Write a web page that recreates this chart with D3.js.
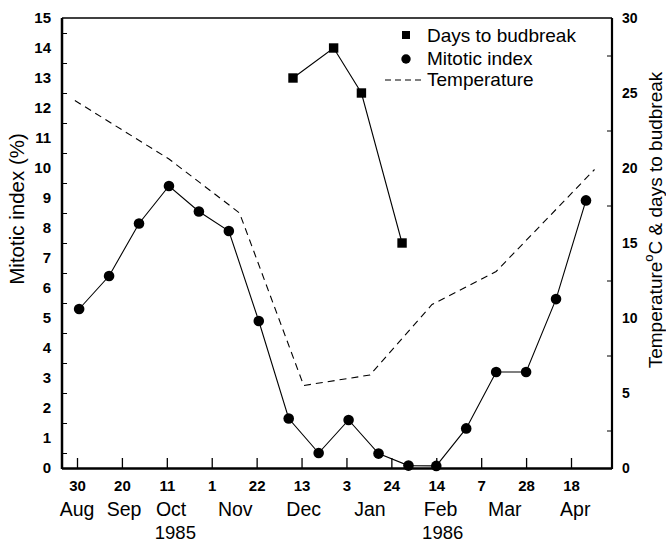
<!DOCTYPE html>
<html><head><meta charset="utf-8">
<script src="https://cdn.jsdelivr.net/npm/d3@7"></script>
<style>body{margin:0;background:#fff}svg{display:block}</style>
</head><body><svg id="c" width="666" height="544"></svg>
<script>
// ---- data ----
const tickDates = ["1985-08-30","1985-09-20","1985-10-11","1985-11-01","1985-11-22","1985-12-13","1986-01-03","1986-01-24","1986-02-14","1986-03-07","1986-03-28","1986-04-18"];
const tickLabels = ["30","20","11","1","22","13","3","24","14","7","28","18"];
const monthLabels = ["Aug","Sep","Oct","Nov","Dec","Jan","Feb","Mar","Apr"];
const monthDates = ["1985-08-30","1985-09-21","1985-10-13","1985-11-12","1985-12-14","1986-01-14","1986-02-16","1986-03-18","1986-04-20"];
const yearLabels = ["1985","1986"];
const yearDates = ["1985-10-15","1986-02-17"];

const mitoticDates = ["1985-08-31","1985-09-14","1985-09-28","1985-10-12","1985-10-26","1985-11-09","1985-11-23","1985-12-07","1985-12-21","1986-01-04","1986-01-18","1986-02-01","1986-02-14","1986-02-28","1986-03-14","1986-03-28","1986-04-11","1986-04-25"];
const mitoticIndex = [5.3, 6.4, 8.15, 9.4, 8.55, 7.9, 4.9, 1.65, 0.5, 1.6, 0.48, 0.08, 0.07, 1.32, 3.2, 3.2, 5.63, 8.92];

const budbreakDates = ["1985-12-09","1985-12-28","1986-01-10","1986-01-29"];
const budbreakDays = [26, 28, 25, 15];

const tempDates = ["1985-08-29","1985-10-12","1985-11-14","1985-12-14","1986-01-14","1986-02-12","1986-03-14","1986-04-29"];
const temperature = [24.5, 20.6, 17.0, 5.5, 6.2, 10.9, 13.1, 19.9];

const leftTicks = d3.range(0, 16, 1);
const rightTicks = d3.range(0, 31, 5);

const legendLabels = ["Days to budbreak", "Mitotic index", "Temperature"];

// ---- layout ----
const FONT = "'Liberation Sans', Arial, Helvetica, sans-serif";
const L = 62, R = 612, T = 18, B = 468;
const parse = d3.utcParse("%Y-%m-%d");
const svg = d3.select("#c").style("font-family", FONT);

const x = d3.scaleUtc().domain([parse("1985-08-30"), parse("1986-04-18")]).range([77, 571]);
const yL = d3.scaleLinear().domain([0, 15]).range([B, T]);
const yR = d3.scaleLinear().domain([0, 30]).range([B, T]);

// bottom axis
const gx = svg.append("g").attr("transform", `translate(0,${B})`)
  .call(d3.axisBottom(x).tickValues(tickDates.map(parse))
    .tickFormat((d, i) => tickLabels[i]).tickSizeInner(-10).tickSizeOuter(0));
gx.select(".domain").remove();
gx.selectAll(".tick line").attr("stroke", "#000").attr("stroke-width", 1.3);
gx.selectAll(".tick text").attr("y", 12).attr("dy", "0.71em")
  .style("font-family", FONT).style("font-size", "15px").style("font-weight", "bold").attr("fill", "#000");

// left axis: minor ticks at half units, labels at integers
const gl1 = svg.append("g").attr("transform", `translate(${L},0)`)
  .call(d3.axisLeft(yL).tickValues(d3.range(0.5, 15, 1)).tickFormat("").tickSizeInner(-5).tickSizeOuter(0));
gl1.select(".domain").remove();
gl1.selectAll(".tick line").attr("stroke", "#000").attr("stroke-width", 1);
const gl2 = svg.append("g").attr("transform", `translate(${L},0)`)
  .call(d3.axisLeft(yL).tickValues(leftTicks).tickFormat(d3.format("d")).tickSize(0).tickPadding(11));
gl2.select(".domain").remove();
gl2.selectAll(".tick text").style("font-family", FONT).style("font-size", "15px").style("font-weight", "bold").attr("fill", "#000");

// right axis
const gr1 = svg.append("g").attr("transform", `translate(${R},0)`)
  .call(d3.axisRight(yR).tickValues(d3.range(2.5, 30, 5)).tickFormat("").tickSizeInner(-5).tickSizeOuter(0));
gr1.select(".domain").remove();
gr1.selectAll(".tick line").attr("stroke", "#000").attr("stroke-width", 1);
const gr2 = svg.append("g").attr("transform", `translate(${R},0)`)
  .call(d3.axisRight(yR).tickValues(rightTicks).tickFormat(d3.format("d")).tickSize(0).tickPadding(10));
gr2.select(".domain").remove();
gr2.selectAll(".tick text").style("font-family", FONT).style("font-size", "14px").style("font-weight", "bold").attr("fill", "#000");

// frame
svg.append("line").attr("x1", L).attr("x2", R).attr("y1", T).attr("y2", T).attr("stroke", "#000").attr("stroke-width", 1.5);
svg.append("line").attr("x1", L).attr("x2", L).attr("y1", T).attr("y2", B + 1).attr("stroke", "#000").attr("stroke-width", 2.5);
svg.append("line").attr("x1", R).attr("x2", R).attr("y1", T).attr("y2", B + 1).attr("stroke", "#000").attr("stroke-width", 2.2);
svg.append("line").attr("x1", L).attr("x2", R).attr("y1", B + 0.5).attr("y2", B + 0.5).attr("stroke", "#000").attr("stroke-width", 2.5);

// month & year labels
svg.append("g").selectAll("text").data(monthLabels).join("text")
  .attr("x", (d, i) => x(parse(monthDates[i]))).attr("y", 516)
  .attr("text-anchor", "middle").style("font-size", "19.5px").text(d => d);
svg.append("g").selectAll("text").data(yearLabels).join("text")
  .attr("x", (d, i) => x(parse(yearDates[i]))).attr("y", 539)
  .attr("text-anchor", "middle").style("font-size", "18.5px").text(d => d);

// axis titles
svg.append("text").attr("transform", "translate(24,209) rotate(-90)")
  .attr("text-anchor", "middle").style("font-size", "20.5px").text("Mitotic index (%)");
const rt = svg.append("text").attr("transform", "translate(662,220) rotate(-90)")
  .attr("text-anchor", "middle").style("font-size", "19px");
rt.append("tspan").text("Temperature");
rt.append("tspan").attr("dy", -9).style("font-size", "13px").text("o");
rt.append("tspan").attr("dy", 9).text("C & days to budbreak");

// temperature dashed
const tData = tempDates.map((d, i) => [parse(d), temperature[i]]);
svg.append("path").datum(tData)
  .attr("d", d3.line().x(d => x(d[0])).y(d => yR(d[1])))
  .attr("fill", "none").attr("stroke", "#000").attr("stroke-width", 1.1).attr("stroke-dasharray", "7,5");

// mitotic index
const mData = mitoticDates.map((d, i) => [parse(d), mitoticIndex[i]]);
svg.append("path").datum(mData)
  .attr("d", d3.line().x(d => x(d[0])).y(d => yL(d[1])))
  .attr("fill", "none").attr("stroke", "#000").attr("stroke-width", 1.1);
svg.append("g").selectAll("circle").data(mData).join("circle")
  .attr("cx", d => x(d[0])).attr("cy", d => yL(d[1])).attr("r", 5.3).attr("fill", "#000");

// days to budbreak
const bData = budbreakDates.map((d, i) => [parse(d), budbreakDays[i]]);
svg.append("path").datum(bData)
  .attr("d", d3.line().x(d => x(d[0])).y(d => yR(d[1])))
  .attr("fill", "none").attr("stroke", "#000").attr("stroke-width", 1.1);
svg.append("g").selectAll("rect").data(bData).join("rect")
  .attr("x", d => x(d[0]) - 4.7).attr("y", d => yR(d[1]) - 4.7).attr("width", 9.4).attr("height", 9.4).attr("fill", "#000");

// legend
const lg = svg.append("g");
lg.append("rect").attr("x", 402).attr("y", 31).attr("width", 8).attr("height", 8).attr("fill", "#000");
lg.append("circle").attr("cx", 406).attr("cy", 59).attr("r", 4.7).attr("fill", "#000");
lg.append("line").attr("x1", 385).attr("x2", 424).attr("y1", 80).attr("y2", 80)
  .attr("stroke", "#000").attr("stroke-width", 1).attr("stroke-dasharray", "6,4");
lg.selectAll("text.lt").data(legendLabels).join("text").attr("class", "lt")
  .attr("x", 427).attr("y", (d, i) => [42, 65, 86][i]).style("font-size", "19px").text(d => d);
</script></body></html>
